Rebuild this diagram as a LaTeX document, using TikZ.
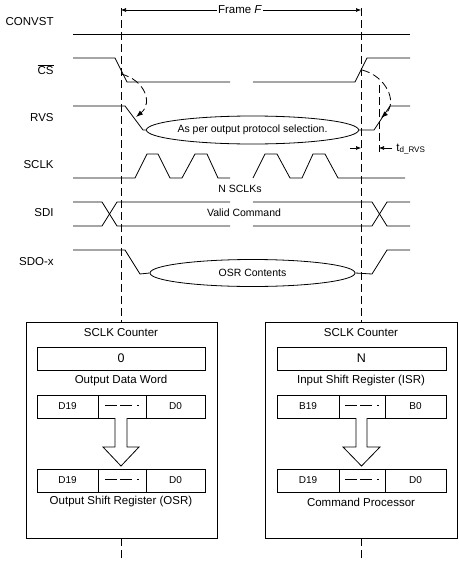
\documentclass[tikz,border=0pt]{standalone}
\usepackage{fontspec}
\setmainfont{Liberation Sans}
\usetikzlibrary{arrows.meta,shapes.geometric}
\newcommand{\midgap}{\rule[0.5ex]{12pt}{0.6pt}\hspace{2.5pt}\rule[0.5ex]{12pt}{0.6pt}\hspace{5pt}\rule[0.5ex]{2pt}{0.6pt}}
\begin{document}
\begin{tikzpicture}[x=1pt,y=-1pt, line width=0.8pt,
  lbl/.style={anchor=east, font=\fontsize{11.5}{13}\selectfont, inner sep=0},
  small/.style={font=\fontsize{10.5}{12}\selectfont, inner sep=0},
  boxtxt/.style={font=\fontsize{11.5}{13}\selectfont, inner sep=0},
  cell/.style={draw, rectangle, inner sep=0, outer sep=0, minimum height=23pt, font=\fontsize{10}{12}\selectfont},
  bigbox/.style={draw, rectangle, inner sep=0, outer sep=0, minimum height=216pt},
  oval/.style={draw, ellipse, inner sep=0, minimum width=205pt, font=\fontsize{10.5}{12}\selectfont},
  dsh/.style={dash pattern=on 8pt off 4pt},
  tipa/.style={-{Latex[length=7pt,width=5pt]}},
  dimtip/.style={-{Latex[length=5pt,width=4pt]}},
  hollow/.style={draw, fill=white, line width=0.8pt}
]
\useasboundingbox (0,0) rectangle (458,562);

% signal labels
\node[lbl] (lconv) at (54,22) {CONVST};
\node[lbl] (lcs) at (54,70) {$\overline{\hbox{CS}}$};
\node[lbl] (lrvs) at (54,118) {RVS};
\node[lbl] (lsclk) at (54,165) {SCLK};
\node[lbl] (lsdi) at (54,213) {SDI};
\node[lbl] (lsdo) at (54,262) {SDO-x};

% frame
\coordinate (fL) at (121,10);
\coordinate (fR) at (361,10);
\draw[{Latex[length=5pt,width=4pt]}-{Latex[length=5pt,width=4pt]}, line width=0.6pt] (fL) -- (fR);
\node[fill=white, inner sep=1pt, font=\fontsize{11.5}{13}\selectfont] (frame) at (240,10) {Frame \textit{F}};

% CONVST
\draw (73,34) -- (410,34);
% CS
\draw (73,58) -- (115,58) -- (127,82) -- (230,82);
\draw (253,82) -- (355,82) -- (367,58) -- (410,58);
% RVS
\node[oval, minimum height=28pt] (e1) at (252.5,130) {As per output protocol selection.};
\draw (73,106) -- (125,106) -- (143,130) -- (e1.west);
\draw (e1.east) -- (374,130) -- (390,106) -- (410,106);
% SCLK
\draw (73,178) -- (135,178) -- (147,154) -- (158,154) -- (170,178) -- (182,178) -- (195,154) -- (207,154) -- (218,178) -- (230,178);
\draw (253,178) -- (265,154) -- (277,154) -- (290,178) -- (302,178) -- (313,154) -- (325,154) -- (338,178) -- (350,178) -- (405,178);
\node[small] (nsclk) at (240,189) {N SCLKs};
% SDI
\draw (73,202) -- (102,202) -- (117,226) -- (230,226);
\draw (73,226) -- (102,226) -- (117,202) -- (230,202);
\draw (253,202) -- (372,202) -- (387,226) -- (410,226);
\draw (253,226) -- (372,226) -- (387,202) -- (410,202);
\node[small] (vc) at (244,213) {Valid Command};
% SDO-x
\node[oval, minimum height=27pt] (e2) at (252.5,273) {OSR Contents};
\draw (73,250) -- (125,250) -- (140,274) -- (e2.west);
\draw (e2.east) -- (372,274) -- (387,250) -- (410,250);

% curved dashed arrows
\coordinate (c1s) at (121,74);
\coordinate (c1e) at (136,117);
\draw[dsh, tipa] (c1s) .. controls (145,80) and (153,103) .. (c1e);
\coordinate (c2s) at (362,70);
\coordinate (c2e) at (381,118);
\draw[dsh, tipa] (c2s) .. controls (386,76) and (398,102) .. (c2e);

% t_d_RVS
\coordinate (td) at (379,85);
\draw[dsh] (td) -- (379,152);
\coordinate (ta) at (350,148);
\coordinate (tb) at (392,148);
\draw[dimtip, line width=0.6pt] (ta) -- (361,148);
\draw[dimtip, line width=0.6pt] (tb) -- (379,148);
\node[anchor=west, inner sep=0, font=\fontsize{11.5}{13}\selectfont] (tdl) at (396,149) {t\textsubscript{d\_RVS}};

% boxes
\node[bigbox, minimum width=191pt] (boxL) at (121.5,430) {};
\node[bigbox, minimum width=192pt] (boxR) at (361,430) {};

% dashed frame lines
\draw[dsh] (121,8) -- (121,322);
\draw[dsh] (121,538) -- (121,562);
\draw[dsh] (361,8) -- (361,322);
\draw[dsh] (361,538) -- (361,562);

% left box content
\node[boxtxt] (tl1) at (121,333) {SCLK Counter};
\node[cell, minimum width=168pt, font=\fontsize{12.5}{14}\selectfont] (cntL) at (121,358.5) {0};
\node[boxtxt] (tl2) at (121,381) {Output Data Word};
\node[cell, minimum width=61pt] (l1a) at (67.5,406.5) {D19};
\node[cell, minimum width=48pt] (l1b) at (122,406.5) {\midgap};
\node[cell, minimum width=59pt] (l1c) at (175.5,406.5) {D0};
\node[cell, minimum width=61pt] (l2a) at (67.5,480.5) {D19};
\node[cell, minimum width=48pt] (l2b) at (122,480.5) {\midgap};
\node[cell, minimum width=59pt] (l2c) at (175.5,480.5) {D0};
\node[boxtxt] (tl3) at (121,502) {Output Shift Register (OSR)};
\draw[hollow] (115,418) -- (115,447) -- (103,447) -- (121,466) -- (139,447) -- (127,447) -- (127,418);

% right box content
\node[boxtxt] (tr1) at (361,333) {SCLK Counter};
\node[cell, minimum width=169pt, font=\fontsize{12.5}{14}\selectfont] (cntR) at (361.5,358.5) {N};
\node[boxtxt] (tr2) at (361,381) {Input Shift Register (ISR)};
\node[cell, minimum width=62pt] (r1a) at (308,406.5) {B19};
\node[cell, minimum width=46pt] (r1b) at (362,406.5) {\midgap};
\node[cell, minimum width=61pt] (r1c) at (415.5,406.5) {B0};
\node[cell, minimum width=62pt] (r2a) at (308,480.5) {D19};
\node[cell, minimum width=46pt] (r2b) at (362,480.5) {\midgap};
\node[cell, minimum width=61pt] (r2c) at (415.5,480.5) {D0};
\node[boxtxt] (tr3) at (361,502) {Command Processor};
\draw[hollow] (356,418) -- (356,447) -- (343,447) -- (361.5,466) -- (380,447) -- (367,447) -- (367,418);
\end{tikzpicture}
\end{document}
